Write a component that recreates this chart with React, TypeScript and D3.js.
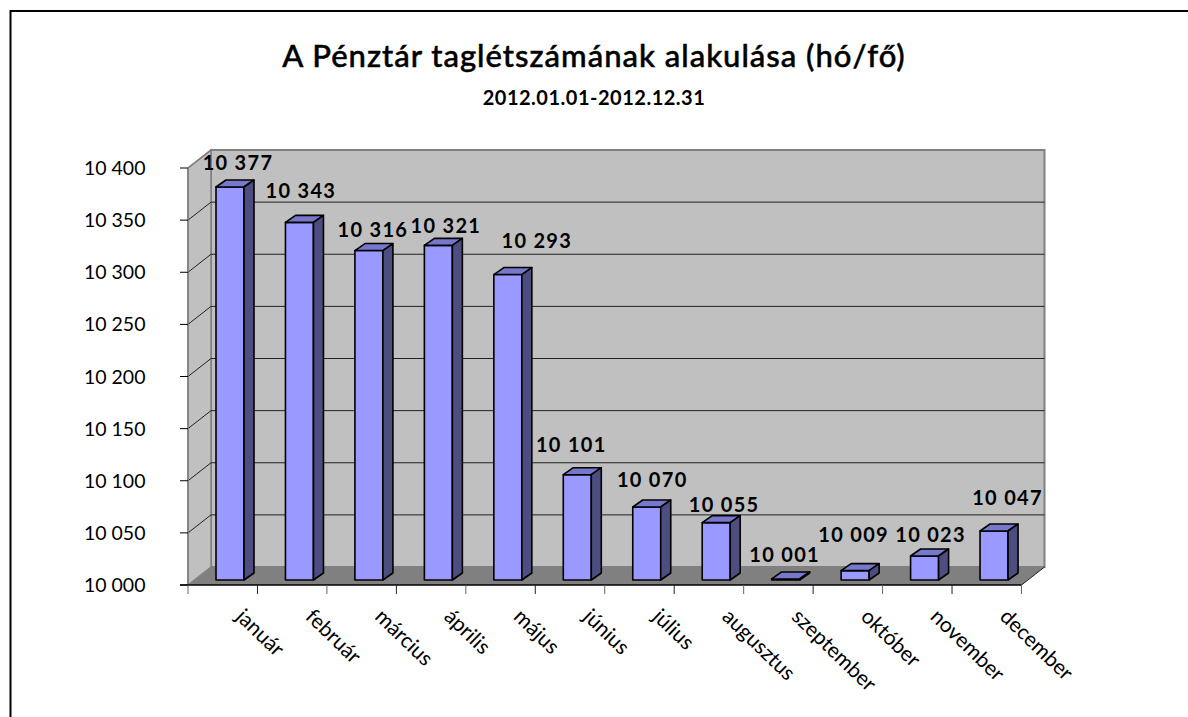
import React from "react";
import * as d3 from "d3";

const months = ["január", "február", "március", "április", "május", "június", "július", "augusztus", "szeptember", "október", "november", "december"];
const members = [10377, 10343, 10316, 10321, 10293, 10101, 10070, 10055, 10001, 10009, 10023, 10047];
const valueTicks = [10000, 10050, 10100, 10150, 10200, 10250, 10300, 10350, 10400];
const labelNudgeX = [8, 1.5, 4, 7.5, 29, -6, 5.5, 8, -1, -1.5, 6, 13.5];
const labelNudgeY = [-18, -25.4, -14.6, -13.4, -27.5, -23.7, -21, -11.7, -18, -29.6, -15, -27];
const titleText = "A Pénztár taglétszámának alakulása (hó/fő)";
const subtitleText = "2012.01.01-2012.12.31";

const FONT = "Lato, 'Open Sans', sans-serif";
const depthX = 23;
const depthY = -18;
const barDepthX = 10;
const barDepthY = -7;

const fmt = (v: number) => {
  const s = String(v);
  return s.slice(0, 2) + " " + s.slice(2);
};

export default function App() {
  const frontY = d3.scaleLinear().domain([10000, 10400]).range([585, 168]);
  const barY = d3.scaleLinear().domain([10000, 10400]).range([580, 163]);
  const band = d3.scaleBand<string>().domain(months).range([188, 1021.5]);
  const bw = band.bandwidth();
  const barW = 28;
  const barOffset = 28;
  const x0 = 188;
  const x1 = 1021.5;
  const yTop = frontY(10400);
  const yBot = frontY(10000);
  const poly = (pts: number[][]) => pts.map((p) => p.join(",")).join(" ");

  return (
    <svg width={1188} height={717} style={{ position: "absolute", left: 0, top: 0, background: "#fff" }} fontFamily={FONT}>
      <path d="M10.5 717V11H1188" fill="none" stroke="#000" strokeWidth={2} />

      <text x={594} y={67} textAnchor="middle" fontSize={31} fontWeight={500} letterSpacing={1} fill="#000" stroke="#000" strokeWidth={0.5}>{titleText}</text>
      <text x={594} y={105} textAnchor="middle" fontSize={20} fontWeight={700} letterSpacing={0.5} fill="#000">{subtitleText}</text>

      {/* back wall */}
      <rect x={x0 + depthX} y={yTop + depthY} width={x1 - x0} height={yBot - yTop} fill="#c0c0c0" stroke="#808080" strokeWidth={2} />
      {/* side wall */}
      <polygon points={poly([[x0, yTop], [x0 + depthX, yTop + depthY], [x0 + depthX, yBot + depthY], [x0, yBot]])} fill="#c0c0c0" stroke="#808080" strokeWidth={1.5} />
      {/* floor */}
      <polygon points={poly([[x0, yBot], [x0 + depthX, yBot + depthY], [x1 + depthX, yBot + depthY], [x1, yBot]])} fill="#808080" />

      {valueTicks.filter((v) => v > 10000 && v < 10400).map((v) => (
        <path key={v} d={`M${x0} ${frontY(v)}L${x0 + depthX} ${frontY(v) + depthY}H${x1 + depthX}`} fill="none" stroke="#222" strokeWidth={1} />
      ))}
      <path d={`M${x0} ${yTop}L${x0 + depthX} ${yTop + depthY}`} stroke="#808080" strokeWidth={1.5} />
      <path d={`M${x1} ${yBot}L${x1 + depthX} ${yBot + depthY}`} stroke="#222" strokeWidth={1} />

      {/* axes */}
      <path d={`M${x0} ${yTop}V${yBot}`} stroke="#808080" strokeWidth={1.5} />
      <path d={`M${x0 - 8} ${yBot}H${x1}`} stroke="#000" strokeWidth={1.5} />
      {valueTicks.map((v) => (
        <g key={v}>
          <line x1={x0 - 8} x2={x0} y1={frontY(v)} y2={frontY(v)} stroke="#000" strokeWidth={1} />
          <text x={145.5} y={frontY(v) + 7} textAnchor="end" fontSize={19.5} fill="#000">{fmt(v)}</text>
        </g>
      ))}
      {[...months.map((m) => band(m)!), x1].map((x, i) => (
        <line key={i} x1={x} x2={x} y1={yBot} y2={yBot + 9} stroke={i % 2 ? "#222" : "#666"} strokeWidth={1} />
      ))}

      {/* bars */}
      {months.map((m, i) => {
        const l = band(m)! + barOffset;
        const r = l + barW;
        const t = barY(members[i]);
        const b = barY(10000);
        return (
          <g key={m} stroke="#000" strokeWidth={1.6} strokeLinejoin="round">
            <rect x={l} y={t} width={barW} height={b - t} fill="#9999ff" />
            <polygon points={poly([[l, t], [l + barDepthX, t + barDepthY], [r + barDepthX, t + barDepthY], [r, t]])} fill="#7777cc" />
            <polygon points={poly([[r, t], [r + barDepthX, t + barDepthY], [r + barDepthX, b + barDepthY], [r, b]])} fill="#4d4d80" />
          </g>
        );
      })}

      {/* value labels */}
      {months.map((m, i) => (
        <text key={m} x={band(m)! + barOffset + barW / 2 + labelNudgeX[i]} y={barY(members[i]) + labelNudgeY[i] + 1} textAnchor="middle" fontSize={20} fontWeight={700} letterSpacing={1.3} fill="#000">
          {fmt(members[i])}
        </text>
      ))}

      {/* category labels */}
      {months.map((m) => {
        const x = band(m)! + bw / 2 + 12;
        return (
          <text key={m} transform={`translate(${x},618) rotate(44)`} fontSize={21} fill="#000">{m}</text>
        );
      })}
    </svg>
  );
}
